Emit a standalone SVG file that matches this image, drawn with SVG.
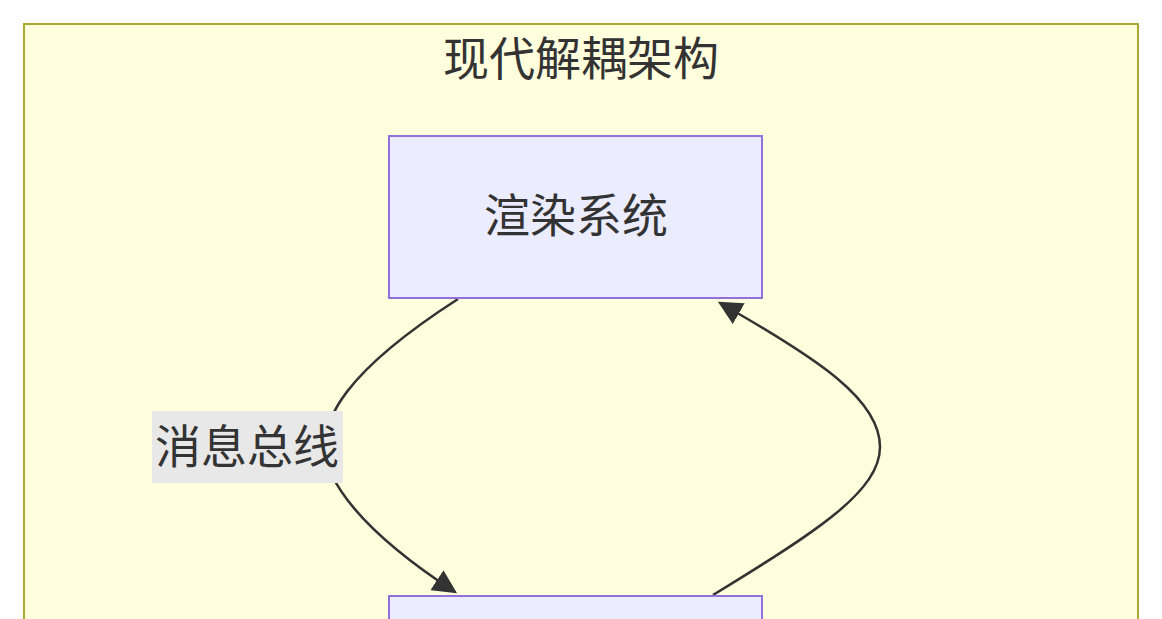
<svg xmlns="http://www.w3.org/2000/svg" width="1162" height="619" viewBox="0 0 1162 619">
<style>
text{font-family:"Liberation Sans","Noto Sans CJK SC",sans-serif;fill:#333;text-anchor:middle;dominant-baseline:central}
.node rect{fill:#ececff;stroke:#9370db;stroke-width:2}
.edge{fill:none;stroke:#333;stroke-width:2.5}
</style>
<defs><marker id="a" viewBox="0 0 10 10" refX="9" refY="5" markerWidth="24" markerHeight="24" markerUnits="userSpaceOnUse" orient="auto"><path d="M0,0L10,5L0,10z" fill="#333"/></marker></defs>
<g id="cluster"><rect x="24" y="24" width="1114" height="640" fill="#ffffde" stroke="#aaaa33" stroke-width="2"/><text x="581" y="59" font-size="46">现代解耦架构</text></g>
<g id="connectors">
<path class="edge" d="M458,299 C340,375 325,420 325,447 C325,480 360,530 455,592" marker-end="url(#a)"/>
<path class="edge" d="M713,595 C820,530 880,490 880,447 C880,400 820,360 720,303" marker-end="url(#a)"/>
<g id="label1"><rect x="152" y="411" width="191" height="72" fill="#e8e8e8"/><text x="247" y="447" font-size="46">消息总线</text></g>
</g>
<g id="render" class="node"><rect x="389" y="136" width="373" height="162"/><text x="576" y="216" font-size="46">渲染系统</text></g>
<g id="bottom" class="node"><rect x="389" y="596" width="373" height="60"/></g>
</svg>
